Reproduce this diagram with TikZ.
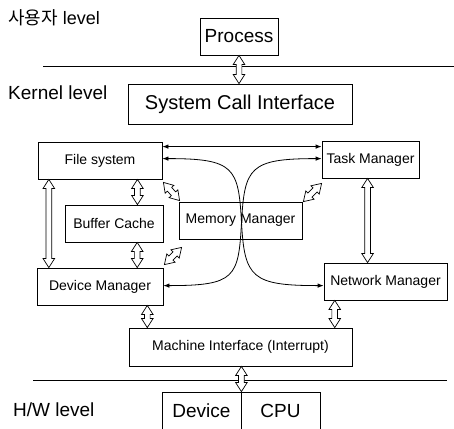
\documentclass[tikz,border=0pt]{standalone}
\usepackage{fontspec}
\setmainfont{Liberation Sans}
\newfontfamily\krfont{Noto Sans CJK KR}
\usetikzlibrary{shapes.arrows,calc,arrows.meta}

\tikzset{
  box/.style={draw, line width=0.8pt, inner sep=0pt, font=\fontsize{14}{16}\selectfont},
  bigbox/.style={box, font=\fontsize{19}{22}\selectfont},
  level/.style={anchor=west, inner sep=0pt, font=\fontsize{19}{22}\selectfont},
  openarrow/.style={double arrow, draw, fill=white, line width=0.7pt, inner sep=2.5pt,
    double arrow head extend=3pt, double arrow tip angle=65, minimum width=0pt},
  thinarrow/.style={line width=0.8pt, {Latex[length=6pt,width=4.5pt]}-{Latex[length=6pt,width=4.5pt]}},
  rule/.style={line width=0.8pt}
}

% hollow two-headed block arrow between two points
\newcommand\hollowlink[2]{%
  \path let \p1=(#1), \p2=(#2),
    \n1={veclen(\x2-\x1,\y2-\y1)}, \n2={atan2(\y2-\y1,\x2-\x1)} in
    node[openarrow, minimum height=\n1, rotate=\n2] at ($(\p1)!0.5!(\p2)$) {};}

\begin{document}
\begin{tikzpicture}[x=1pt, y=-1pt]
\useasboundingbox (0,0) rectangle (454,428);

% level separators
\draw[rule] (43,66) -- (454,66);
\draw[rule] (33,380) -- (447,380);

% level labels
\node[level, font=\fontsize{18}{21}\selectfont] (ulvl) at (8,18) {{\krfont 사용자} level};
\node[level] (klvl) at (8,93) {Kernel level};
\node[level] (hlvl) at (13,410) {H/W level};

% user level
\node[bigbox, minimum width=78pt, minimum height=37pt] (proc) at (239,36.5) {Process};

% kernel
\node[bigbox, font=\fontsize{20}{23}\selectfont, minimum width=224pt, minimum height=40pt] (sci) at (240,104) {System Call Interface};
\node[box, minimum width=124pt, minimum height=37pt] (fs) at (100,160.5) {File system};
\node[box, minimum width=97pt, minimum height=37pt] (tm) at (370.5,159.5) {Task Manager};
\node[box, minimum width=98pt, minimum height=37pt] (bc) at (114,223.5) {Buffer Cache};
\node[box, minimum width=123pt, minimum height=37pt] (mm) at (240.5,220.5) {Memory Manager};
\node[box, minimum width=126pt, minimum height=37pt] (dm) at (100,286.5) {Device Manager};
\node[box, minimum width=123pt, minimum height=37pt] (nm) at (385.5,281.5) {Network Manager};
\node[box, minimum width=223pt, minimum height=38pt] (mi) at (240.5,347) {Machine Interface (Interrupt)};

% hardware
\node[bigbox, minimum width=79pt, minimum height=38pt] (dev) at (201.5,411) {Device};
\node[bigbox, minimum width=79pt, minimum height=38pt] (cpu) at (280.5,411) {CPU};

% thin message arrows
\draw[thinarrow] ([shift={(0,5)}]fs.north east) -- ([shift={(0,6)}]tm.north west);
\draw[thinarrow] ([shift={(0,17)}]fs.north east)
  .. controls +(72,0) and +(-3,-55) .. ([shift={(1,2)}]mm.center)
  .. controls +(3,55) and +(-72,0) .. ([shift={(0,23)}]nm.north west);
\draw[thinarrow] ([shift={(0,18)}]tm.north west)
  .. controls +(-72,0) and +(3,-55) .. ([shift={(1,2)}]mm.center)
  .. controls +(-3,55) and +(72,0) .. ([shift={(0,18)}]dm.north east);

% anchor points for the block arrows
\coordinate (fsbc) at ($(fs.south west)!0.8!(fs.south east)$);
\coordinate (bcdm) at ($(bc.south west)!0.735!(bc.south east)$);
\coordinate (fsdm) at ($(fs.south west)!0.09!(fs.south east)$);
\coordinate (tmnm) at ($(tm.south west)!0.47!(tm.south east)$);
\coordinate (dmmi) at ($(dm.south west)!0.873!(dm.south east)$);
\coordinate (nmmi) at ($(nm.south west)!0.09!(nm.south east)$);

% block arrows
\hollowlink{proc.south}{proc.south |- sci.north}
\hollowlink{fsbc}{fsbc |- bc.north}
\hollowlink{bcdm}{bcdm |- dm.north}
\hollowlink{fsdm}{fsdm |- dm.north}
\hollowlink{[shift={(1,3)}]fs.south east}{[shift={(1,-1)}]mm.north west}
\hollowlink{[shift={(1,-3)}]dm.north east}{[shift={(3,8)}]mm.south west}
\hollowlink{[shift={(0,5)}]tm.south west}{[shift={(1,0)}]mm.north east}
\hollowlink{tmnm}{tmnm |- nm.north}
\hollowlink{dmmi}{dmmi |- mi.north}
\hollowlink{nmmi}{nmmi |- mi.north}
\hollowlink{dev.north east |- mi.south}{dev.north east}
\end{tikzpicture}
\end{document}
